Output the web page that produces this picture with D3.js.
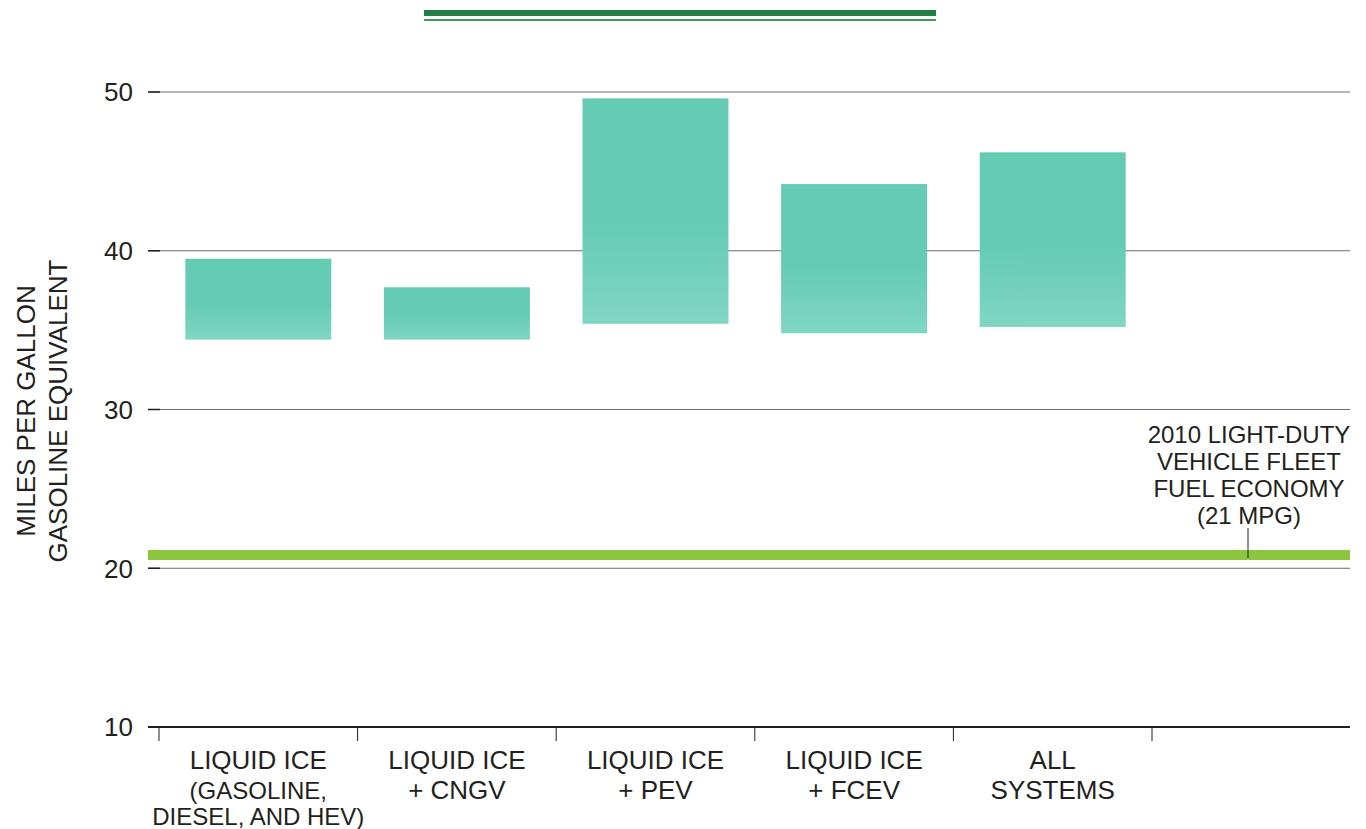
<!DOCTYPE html>
<html>
<head>
<meta charset="utf-8">
<script src="https://cdn.jsdelivr.net/npm/d3@7"></script>
<style>
  body { margin: 0; background: #fff; }
  svg { display: block; font-family: "Liberation Sans", Arial, sans-serif; }
</style>
</head>
<body>
<div id="chart"></div>
<script>
// data
const categories = ["LIQUID ICE|(GASOLINE,|DIESEL, AND HEV)", "LIQUID ICE|+ CNGV", "LIQUID ICE|+ PEV", "LIQUID ICE|+ FCEV", "ALL|SYSTEMS"];
const lowValues = [34.4, 34.4, 35.4, 34.8, 35.2];
const highValues = [39.5, 37.7, 49.6, 44.2, 46.2];
const yTicks = [10, 20, 30, 40, 50];
const fleetMpg = 21;
const fleetLabel = ["2010 LIGHT-DUTY", "VEHICLE FLEET", "FUEL ECONOMY", "(21 MPG)"];

const width = 1366, height = 829;
const svg = d3.select("#chart").append("svg")
  .attr("width", width).attr("height", height);

const defs = svg.append("defs");
const grad = defs.append("linearGradient")
  .attr("id", "barGrad").attr("x1", 0).attr("y1", 0).attr("x2", 0).attr("y2", 1);
grad.append("stop").attr("offset", "0%").attr("stop-color", "#65cbb3");
grad.append("stop").attr("offset", "55%").attr("stop-color", "#66cbb3");
grad.append("stop").attr("offset", "100%").attr("stop-color", "#80d6c2");

const y = d3.scaleLinear().domain([10, 50]).range([727, 92]);
const x = d3.scaleBand().domain(categories).range([159, 1152])
  .paddingInner(0.265).paddingOuter(0.1325);

const left = 148, right = 1350;
const ink = "#231f20";

// top decoration
svg.append("rect").attr("x", 424).attr("y", 10).attr("width", 512).attr("height", 6).attr("fill", "#237f45");
svg.append("rect").attr("x", 424).attr("y", 19).attr("width", 512).attr("height", 2).attr("fill", "#3c9a5c");

// gridlines
const grid = svg.append("g");
grid.selectAll("line.grid").data(yTicks.filter(d => d > 10)).enter()
  .append("line").attr("class", "grid")
  .attr("x1", left).attr("x2", right)
  .attr("y1", d => y(d)).attr("y2", d => y(d))
  .attr("stroke", "#6a6a6a").attr("stroke-width", 1);
grid.selectAll("line.tick").data(yTicks).enter()
  .append("line").attr("class", "tick")
  .attr("x1", left).attr("x2", left + 12)
  .attr("y1", d => y(d)).attr("y2", d => y(d))
  .attr("stroke", ink).attr("stroke-width", 1.5);

// y tick labels
svg.append("g").selectAll("text").data(yTicks).enter()
  .append("text")
  .attr("x", 133).attr("y", d => y(d))
  .attr("dy", "0.36em")
  .attr("text-anchor", "end")
  .attr("font-size", 26)
  .attr("fill", ink)
  .text(d => d);

// y title
const yt = svg.append("text")
  .attr("transform", "translate(0,411) rotate(-90)")
  .attr("text-anchor", "middle")
  .attr("font-size", 26)
  .attr("fill", ink);
yt.append("tspan").attr("x", 0).attr("y", 35).text("MILES PER GALLON");
yt.append("tspan").attr("x", 0).attr("y", 67).text("GASOLINE EQUIVALENT");

// bars
svg.append("g").selectAll("rect").data(categories).enter()
  .append("rect")
  .attr("x", d => x(d))
  .attr("width", x.bandwidth())
  .attr("y", (d, i) => y(highValues[i]))
  .attr("height", (d, i) => y(lowValues[i]) - y(highValues[i]))
  .attr("fill", "url(#barGrad)");

// fleet line
svg.append("line")
  .attr("x1", left).attr("x2", right)
  .attr("y1", y(fleetMpg) + 2.5).attr("y2", y(fleetMpg) + 2.5)
  .attr("stroke", "#8cc63f").attr("stroke-width", 10);

svg.append("line")
  .attr("x1", 1248).attr("x2", 1248)
  .attr("y1", 528).attr("y2", 558)
  .attr("stroke", ink).attr("stroke-width", 1);

const ann = svg.append("text")
  .attr("text-anchor", "middle")
  .attr("font-size", 24)
  .attr("fill", ink);
fleetLabel.forEach((t, i) => {
  ann.append("tspan").attr("x", 1249).attr("y", 443 + i * 27).text(t);
});

// x axis
svg.append("line")
  .attr("x1", left).attr("x2", right)
  .attr("y1", y(10)).attr("y2", y(10))
  .attr("stroke", ink).attr("stroke-width", 2.2);

const tickX = categories.map(d => x(d) - x.step() * x.paddingInner() / 2);
tickX.push(x(categories[categories.length - 1]) + x.bandwidth() + x.step() * x.paddingInner() / 2);
svg.append("g").selectAll("line").data(tickX).enter()
  .append("line")
  .attr("x1", d => d).attr("x2", d => d)
  .attr("y1", y(10)).attr("y2", y(10) + 14)
  .attr("stroke", ink).attr("stroke-width", 1);

const labels = svg.append("g").selectAll("text").data(categories).enter()
  .append("text")
  .attr("text-anchor", "middle")
  .attr("fill", ink);
labels.each(function(d, k) {
  const cx = x(d) + x.bandwidth() / 2;
  const baselines = [769, 799, 825];
  d.split("|").forEach((line, i) => {
    d3.select(this).append("tspan")
      .attr("x", cx).attr("y", baselines[i])
      .attr("font-size", (k === 0 && i > 0) ? 24 : 26)
      .text(line);
  });
});
</script>
</body>
</html>
